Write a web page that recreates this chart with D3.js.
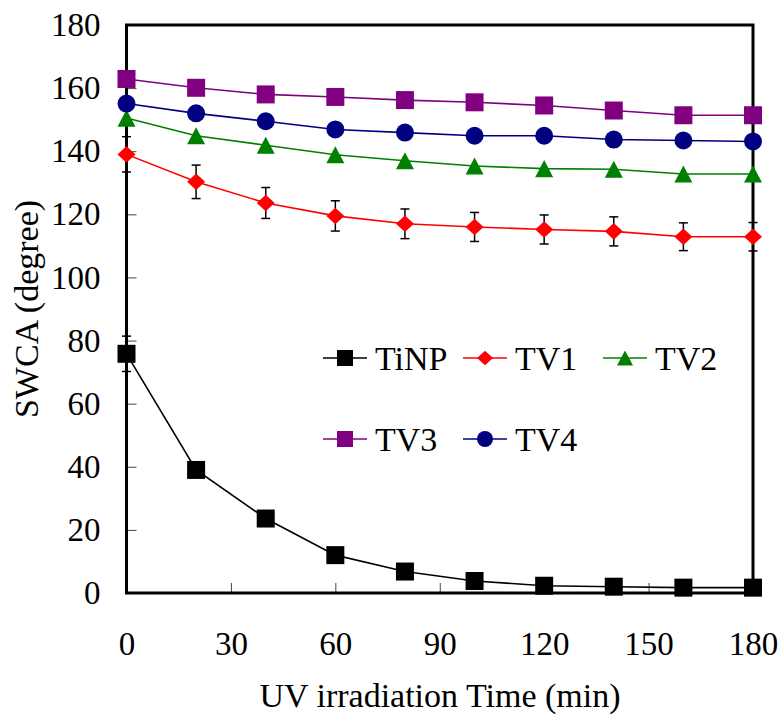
<!DOCTYPE html>
<html>
<head>
<meta charset="utf-8">
<script src="https://cdn.jsdelivr.net/npm/d3@7"></script>
<style>
  body { margin: 0; background: #fff; }
</style>
</head>
<body>
<div id="chart"></div>
<script>
const width = 781;
const height = 715;
const margin = { top: 25, right: 28, bottom: 122, left: 126.5 };
const serif = "'Liberation Serif', 'Times New Roman', Times, serif";

// data
const times = [0, 20, 40, 60, 80, 100, 120, 140, 160, 180];
const tinp = [75.8, 39.0, 23.6, 12.0, 6.8, 3.8, 2.3, 2.0, 1.7, 1.7];
const tv1 = [139.0, 130.3, 123.6, 119.5, 117.0, 116.0, 115.2, 114.6, 112.9, 112.9];
const tv2 = [150.5, 144.9, 141.9, 138.9, 137.0, 135.3, 134.5, 134.3, 132.8, 132.8];
const tv3 = [162.9, 160.1, 158.0, 157.2, 156.2, 155.5, 154.5, 152.9, 151.4, 151.4];
const tv4 = [155.1, 152.0, 149.5, 146.9, 145.9, 144.9, 144.9, 143.7, 143.4, 143.1];
const tinpErr = [5.6, 1.5, 1.2, 1.0, 1.0, 0.8, 0.5, 0.5, 0.5, 0.5];
const tv1Err = [5.6, 5.3, 4.9, 4.8, 4.7, 4.6, 4.6, 4.6, 4.4, 4.5];
const xTicks = [0, 30, 60, 90, 120, 150, 180];
const yTicks = [0, 20, 40, 60, 80, 100, 120, 140, 160, 180];

const series = [
    { name: "TiNP", values: tinp, errors: tinpErr, color: "#000000", shape: "square" },
    { name: "TV1", values: tv1, errors: tv1Err, color: "#ff0000", shape: "diamond" },
    { name: "TV2", values: tv2, errors: null, color: "#008000", shape: "triangle" },
    { name: "TV3", values: tv3, errors: null, color: "#800080", shape: "square" },
    { name: "TV4", values: tv4, errors: null, color: "#000080", shape: "circle" }
];

const svg = d3.select("#chart")
    .append("svg")
    .attr("width", width)
    .attr("height", height)
    .style("font-family", serif);

const x = d3.scaleLinear().domain([0, 180]).range([margin.left, width - margin.right]);
const y = d3.scaleLinear().domain([0, 180]).range([height - margin.bottom, margin.top]);

// marker path centred on 0,0
function markerPath(shape, s) {
    const h = s / 2;
    if (shape === "square") return `M${-h},${-h}H${h}V${h}H${-h}Z`;
    if (shape === "diamond") return `M0,${-h * 0.92}L${h},0L0,${h * 0.92}L${-h},0Z`;
    if (shape === "triangle") return `M0,${-h * 0.95}L${h},${h * 0.95}L${-h},${h * 0.95}Z`;
    return `M${h},0A${h},${h} 0 1,1 ${-h},0A${h},${h} 0 1,1 ${h},0Z`;
}

// axes
const yAxis = svg.append("g")
    .attr("transform", `translate(${margin.left},0)`)
    .call(d3.axisLeft(y).tickValues(yTicks).tickSize(-10).tickPadding(26));
const xAxis = svg.append("g")
    .attr("transform", `translate(0,${height - margin.bottom})`)
    .call(d3.axisBottom(x).tickValues(xTicks).tickSize(-10).tickPadding(39));

[xAxis, yAxis].forEach(g => {
    g.attr("font-family", null).attr("font-size", null);
    g.select(".domain").remove();
    g.selectAll(".tick line").attr("stroke", "#444").attr("stroke-width", 1);
    g.selectAll(".tick text")
        .style("font-family", serif)
        .style("font-size", "33px")
        .attr("fill", "#000");
});

// frame
svg.append("rect")
    .attr("x", margin.left)
    .attr("y", margin.top)
    .attr("width", width - margin.right - margin.left)
    .attr("height", height - margin.bottom - margin.top)
    .attr("fill", "none")
    .attr("stroke", "#000")
    .attr("stroke-width", 3);

// titles
svg.append("text")
    .attr("x", 440)
    .attr("y", 707)
    .attr("text-anchor", "middle")
    .style("font-family", serif)
    .style("font-size", "34px")
    .text("UV irradiation Time (min)");

svg.append("text")
    .attr("transform", "translate(38,309) rotate(-90)")
    .attr("text-anchor", "middle")
    .style("font-family", serif)
    .style("font-size", "34px")
    .text("SWCA (degree)");

const line = d3.line()
    .x((d, i) => x(times[i]))
    .y(d => y(d));

series.forEach(s => {
    svg.append("path")
        .datum(s.values)
        .attr("fill", "none")
        .attr("stroke", s.color)
        .attr("stroke-width", 1.6)
        .attr("d", line);
});

// error bars
series.filter(s => s.errors).forEach(s => {
    const g = svg.append("g").attr("stroke", "#000").attr("stroke-width", 1.5);
    s.values.forEach((v, i) => {
        const cx = x(times[i]);
        const y0 = y(v - s.errors[i]);
        const y1 = y(v + s.errors[i]);
        g.append("line").attr("x1", cx).attr("x2", cx).attr("y1", y0).attr("y2", y1);
        g.append("line").attr("x1", cx - 4.5).attr("x2", cx + 4.5).attr("y1", y0).attr("y2", y0);
        g.append("line").attr("x1", cx - 4.5).attr("x2", cx + 4.5).attr("y1", y1).attr("y2", y1);
    });
});

// markers
series.forEach(s => {
    svg.append("g")
        .selectAll("path")
        .data(s.values)
        .enter().append("path")
        .attr("transform", (d, i) => `translate(${x(times[i])},${y(d)})`)
        .attr("d", markerPath(s.shape, 18))
        .attr("fill", s.color);
});

// legend
const legendPos = [
    { x: 345, y: 358 }, { x: 485, y: 358 }, { x: 625, y: 358 },
    { x: 345, y: 439 }, { x: 485, y: 439 }
];

const legend = svg.append("g");
legend.selectAll(".legend-item")
    .data(series)
    .enter().append("g")
    .attr("class", "legend-item")
    .attr("transform", (d, i) => `translate(${legendPos[i].x},${legendPos[i].y})`);

legend.selectAll(".legend-item")
    .append("line")
    .attr("x1", -22).attr("x2", 22)
    .attr("stroke", d => d.color)
    .attr("stroke-width", 1.6);

legend.selectAll(".legend-item")
    .append("path")
    .attr("d", d => markerPath(d.shape, 16))
    .attr("fill", d => d.color);

legend.selectAll(".legend-item")
    .append("text")
    .attr("x", 30)
    .attr("y", 11.5)
    .style("font-family", serif)
    .style("font-size", "34px")
    .text(d => d.name);
</script>
</body>
</html>
